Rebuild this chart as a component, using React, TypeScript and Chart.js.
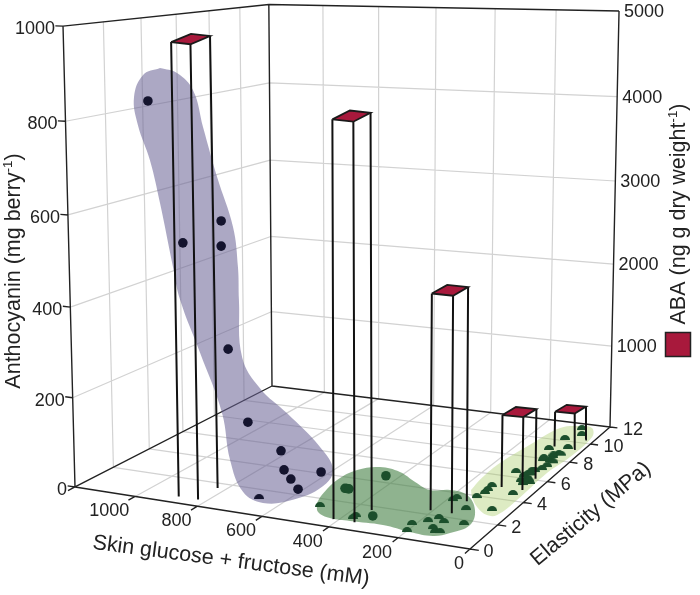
import React, { useEffect, useRef } from "react";
import { Chart, registerables } from "chart.js";
Chart.register(...registerables);

// --- axes
const glucoseTicks = [0, 200, 400, 600, 800, 1000, 1200];
const glucoseLabels = ["0", "200", "400", "600", "800", "1000"];
const elasticityTicks = [0, 2, 4, 6, 8, 10, 12];
const elasticityLabels = ["0", "2", "4", "6", "8", "10", "12"];
const anthocyaninTicks = [0, 200, 400, 600, 800, 1000];
const abaTicks = [1000, 2000, 3000, 4000, 5000];
const GLUCOSE_MAX = 1200, ELASTICITY_MAX = 12, ANTHO_MAX = 1000, ABA_MAX = 5000;

// --- ABA bars
const abaGlucose = [858, 384, 176, 70, 60];
const abaElasticity = [1.05, 1.15, 2.9, 5.55, 9.85];
const abaValue = [4850, 4128, 2303, 805, 418];
const barHalfG = 31, barHalfE = 0.55;
const CAP_FLATTEN = 0.72;

// --- measured berries: early stage
const earlyG = [1027, 922, 799, 800, 782, 722, 619, 610, 589, 567, 496, 675];
const earlyE = [1.5, 1.5, 1.5, 1.5, 1.5, 1.5, 1.5, 1.5, 1.5, 1.5, 1.5, 1.24];
const earlyZ = [837, 536, 590, 536, 314, 159, 106, 65, 47, 27, 72, 0];
// mid stage
const midG = [489, 369, 327, 495, 483, 492, 368, 368, 206, 196, 176, 159, 135, 143, 127, 115, 81, 120];
const midE = [3, 3, 1.2, 3, 3, 1.34, 0.83, 1, 1.05, 0.49, 1.44, 1.78, 1.54, 0.99, 0.73, 0.78, 1.62, 2.76];
const midZ = [2, 43, 2, 2, 2, 0, 0, 0, 0, 0, 0, 0, 0, 0, 0, 0, 0, 0];
// late stage
const lateG = [180, 177, 130, 122, 126, 124, 53, 48, 108, 67, 75, 70, 69, 61, 38, 53, 75, 45, 53, 58, 51, 95, 84, 46, 70, 50, 79, 49, 60, 58, 48, 40, 62, 44];
const lateE = [3.31, 3.51, 3.82, 4.24, 4.89, 4.52, 2.98, 4.48, 6.38, 5.66, 6.12, 6.34, 6.66, 6.69, 5.59, 5.42, 7.78, 7.28, 7.78, 8.19, 8.54, 8.9, 10.08, 9.23, 11.32, 10.7, 7.98, 6.95, 6.35, 5.95, 5.8, 7.7, 8.35, 8.5];
const lateZ = lateG.map(() => 0);

// --- shaded groups
const earlyBlobG = [986, 1041, 1072, 1061, 1024, 994, 955, 934, 872, 804, 780, 740, 677, 583, 493, 460, 499, 600, 683, 738, 746, 748, 762, 810, 852, 882, 932];
const earlyBlobZ = [908, 892, 844, 784, 710, 619, 481, 411, 299, 172, 70, 3, -15, 2, 40, 80, 126, 190, 237, 300, 423, 494, 579, 683, 787, 864, 899];
const midBlobG = [514, 532, 551, 538, 489, 417, 341, 275, 224, 164, 98, 66, 91, 123, 189, 276, 369, 428, 478];
const midBlobE = [1.6, 2.27, 3.65, 4.73, 5.26, 5.07, 4.41, 3.92, 4.16, 3.95, 2.86, 1.68, 0.89, 0.5, 0.53, 0.73, 0.65, 0.64, 0.94];
const lateBlobG = [170, 182, 184, 163, 139, 89, 48, 18, 15, 27, 23, 29, 54, 102, 145];
const lateBlobE = [4.4, 5.63, 7.08, 9.38, 11.25, 11.72, 11.66, 10.73, 8.49, 6.75, 4.12, 2.73, 2.61, 3.12, 3.85];

// --- camera
const H = { a: -386.54, b: 282.97, c: 470, d: -7.08, e: -21.92, f: 549, g: 0.11278, h: 0.23437, k: -0.04403, vx: 366, vy: 11675 };
function P(gl: number, el: number, z: number) {
  const u = gl / GLUCOSE_MAX, v = el / ELASTICITY_MAX;
  const w = 1 + H.g * u + H.h * v + H.k * z;
  return {
    x: (H.a * u + H.b * v + H.c + H.k * H.vx * z) / w,
    y: (H.d * u + H.e * v + H.f + H.k * H.vy * z) / w,
  };
}
const GAP = { x: NaN, y: NaN };
const seg = (a: any, b: any) => [a, b, GAP];

function dome(color: string, r = 5) {
  const c = document.createElement("canvas");
  c.width = c.height = r * 2;
  const x = c.getContext("2d")!;
  x.fillStyle = color;
  x.beginPath();
  x.arc(r, r, r, Math.PI, 0);
  x.closePath();
  x.fill();
  return c;
}
const close = (pts: any[]) => [...pts, pts[0]];
const FONT = "'Liberation Sans', Arial, sans-serif";
const INK = "#222222";
const CRIMSON = "#A8193C";

function textPlugin() {
  return {
    id: "labels",
    afterDatasetsDraw(chart: any) {
      const c: CanvasRenderingContext2D = chart.ctx;
      const put = (s: string, x: number, y: number, align: CanvasTextAlign = "center") => {
        c.textAlign = align; c.textBaseline = "middle"; c.fillText(s, x, y);
      };
      c.save();
      c.fillStyle = INK;
      c.font = `18px ${FONT}`;
      anthocyaninTicks.forEach((t) => {
        const p = P(GLUCOSE_MAX, 0, t / ANTHO_MAX);
        put(String(t), p.x - 8, p.y + 3, "right");
      });
      abaTicks.forEach((t) => {
        const p = P(0, ELASTICITY_MAX, t / ABA_MAX);
        put(String(t), p.x + 5, p.y + 1, "left");
      });
      glucoseLabels.forEach((t) => {
        const v = Number(t);
        const p = P(v, 0, 0);
        const dx = v === 0 ? -11 : v === 1000 ? -26 : -21;
        put(t, p.x + dx, p.y + 15);
      });
      elasticityLabels.forEach((t) => {
        const p = P(0, Number(t), 0);
        put(t, p.x + (t.length > 1 ? 23 : 18.5), p.y + 3);
      });

      const rotated = (x: number, y: number, deg: number, fn: () => void) => {
        c.save(); c.translate(x, y); c.rotate((deg * Math.PI) / 180); fn(); c.restore();
      };
      c.font = `21.5px ${FONT}`;
      rotated(231, 561, 7.5, () => put("Skin glucose + fructose (mM)", 0, 0));
      rotated(591, 514, -40, () => put("Elasticity (MPa)", 0, 0));

      const withSup = (before: string, sup: string, after: string, size: number) => {
        c.font = `${size}px ${FONT}`;
        const w1 = c.measureText(before).width, w3 = c.measureText(after).width;
        c.font = `${size * 0.62}px ${FONT}`;
        const w2 = c.measureText(sup).width;
        const start = -(w1 + w2 + w3) / 2;
        c.textAlign = "left"; c.textBaseline = "alphabetic";
        c.font = `${size}px ${FONT}`;
        c.fillText(before, start, 0);
        c.fillText(after, start + w1 + w2, 0);
        c.font = `${size * 0.62}px ${FONT}`;
        c.fillText(sup, start + w1, -size * 0.38);
      };
      rotated(20, 271, -90, () => withSup("Anthocyanin (mg berry", "-1", ")", 21.5));
      rotated(685, 214, -90, () => withSup("ABA (ng g dry weight", "-1", ")", 21.5));

      c.fillStyle = CRIMSON;
      c.strokeStyle = INK;
      c.lineWidth = 1.5;
      c.fillRect(665.5, 332.5, 25, 24);
      c.strokeRect(665.5, 332.5, 25, 24);
      c.restore();
    },
  };
}

export default function App() {
  const ref = useRef<HTMLCanvasElement>(null);
  useEffect(() => {
    document.body.style.margin = "0";
    const grid: any[] = [];
    const frame: any[] = [];
    elasticityTicks.slice(1, -1).forEach((e) => {
      grid.push(...seg(P(0, e, 0), P(GLUCOSE_MAX, e, 0)));
      grid.push(...seg(P(GLUCOSE_MAX, e, 0), P(GLUCOSE_MAX, e, 1)));
    });
    glucoseTicks.slice(1, -1).forEach((g) => {
      grid.push(...seg(P(g, 0, 0), P(g, ELASTICITY_MAX, 0)));
      grid.push(...seg(P(g, ELASTICITY_MAX, 0), P(g, ELASTICITY_MAX, 1)));
    });
    anthocyaninTicks.slice(1, -1).forEach((t) => {
      const z = t / ANTHO_MAX;
      grid.push(...seg(P(GLUCOSE_MAX, 0, z), P(GLUCOSE_MAX, ELASTICITY_MAX, z)));
    });
    abaTicks.slice(0, -1).forEach((t) => {
      const z = t / ABA_MAX;
      grid.push(...seg(P(GLUCOSE_MAX, ELASTICITY_MAX, z), P(0, ELASTICITY_MAX, z)));
    });
    const Gm = GLUCOSE_MAX, Em = ELASTICITY_MAX;
    frame.push(...seg(P(Gm, 0, 0), P(0, 0, 0)), ...seg(P(0, 0, 0), P(0, Em, 0)), ...seg(P(0, Em, 0), P(Gm, Em, 0)), ...seg(P(Gm, Em, 0), P(Gm, 0, 0)));
    frame.push(...seg(P(Gm, 0, 0), P(Gm, 0, 1)), ...seg(P(Gm, Em, 0), P(Gm, Em, 1)), ...seg(P(0, Em, 0), P(0, Em, 1)));
    frame.push(...seg(P(Gm, 0, 1), P(Gm, Em, 1)), ...seg(P(Gm, Em, 1), P(0, Em, 1)));
    glucoseTicks.forEach((g) => frame.push(...seg(P(g, 0, 0), P(g, -0.35, 0))));
    elasticityTicks.forEach((e) => frame.push(...seg(P(0, e, 0), P(-24, e, 0))));
    anthocyaninTicks.forEach((t) => frame.push(...seg(P(Gm, 0, t / ANTHO_MAX), P(Gm + 25, 0, t / ANTHO_MAX))));

    const legs: any[] = [];
    const tops = abaValue.map((val, i) => {
      const z = val / ABA_MAX, g = abaGlucose[i], e = abaElasticity[i];
      const a: [number, number] = [g + barHalfG, e - barHalfE];
      const b: [number, number] = [g - barHalfG, e - barHalfE];
      const c: [number, number] = [g - barHalfG, e + barHalfE];
      const d: [number, number] = [g + barHalfG, e + barHalfE];
      // the column is raised with one lift; its cap is a slightly flattened copy of the footprint
      const base = P(a[0], a[1], 0), lifted = P(a[0], a[1], z);
      const up = (q: [number, number]) => {
        const p = P(q[0], q[1], 0);
        return { x: p.x + lifted.x - base.x, y: lifted.y + (p.y - base.y) * CAP_FLATTEN };
      };
      [a, b, c].forEach((q) => legs.push(...seg(P(q[0], q[1], 0), up(q))));
      return close([a, b, c, d].map(up));
    });

    const blob = (data: any[], fill: string, order: number) => ({
      data: close(data), showLine: true, fill: "shape", backgroundColor: fill, borderWidth: 0,
      borderColor: "transparent", pointRadius: 0, tension: 0.4, order,
    });
    const dots = (g: number[], e: number[], z: number[], color: string, order: number) => ({
      data: g.map((v, i) => P(v, e[i], z[i] / ANTHO_MAX)),
      showLine: false,
      pointStyle: z.map((v) => (v === 0 ? dome(color) : "circle")),
      pointRadius: 4.8, pointBackgroundColor: color, pointBorderColor: color, pointBorderWidth: 0, order,
    });
    const lines = (data: any[], color: string, width: number, order: number) => ({
      data, showLine: true, borderColor: color, borderWidth: width, pointRadius: 0, spanGaps: false, tension: 0, fill: false, order,
    });

    const datasets: any[] = [
      lines(legs, "#111111", 2, 1),
      ...tops.map((t) => ({
        data: t, showLine: true, fill: "shape", backgroundColor: CRIMSON, borderColor: "#1a1a1a",
        borderWidth: 1.8, pointRadius: 0, tension: 0, order: 0,
      })),
      dots(earlyG, earlyE, earlyZ, "#14142E", 2),
      dots(midG, midE, midZ, "#1C4F2C", 2),
      dots(lateG, lateE, lateZ, "#1C4F2C", 2),
      blob(earlyBlobG.map((g, i) => P(g, 1.5, earlyBlobZ[i] / ANTHO_MAX)), "rgba(104,97,148,0.55)", 5),
      blob(midBlobG.map((g, i) => P(g, midBlobE[i], 0)), "rgba(68,128,68,0.6)", 5),
      blob(lateBlobG.map((g, i) => P(g, lateBlobE[i], 0)), "rgba(160,200,90,0.36)", 5),
      lines(frame, INK, 1.4, 7),
      lines(grid, "#D2D2D2", 1.2, 8),
    ];
    const chart = new Chart(ref.current!, {
      type: "scatter",
      data: { datasets },
      options: {
        animation: false, responsive: false,
        layout: { padding: 0, autoPadding: false },
        plugins: { legend: { display: false }, tooltip: { enabled: false } },
        scales: {
          x: { type: "linear", min: 0, max: 700, display: false },
          y: { type: "linear", min: 0, max: 595, reverse: true, display: false },
        },
      } as any,
      plugins: [textPlugin()],
    });
    return () => chart.destroy();
  }, []);
  return <canvas ref={ref} width={700} height={595} style={{ display: "block" }} />;
}
